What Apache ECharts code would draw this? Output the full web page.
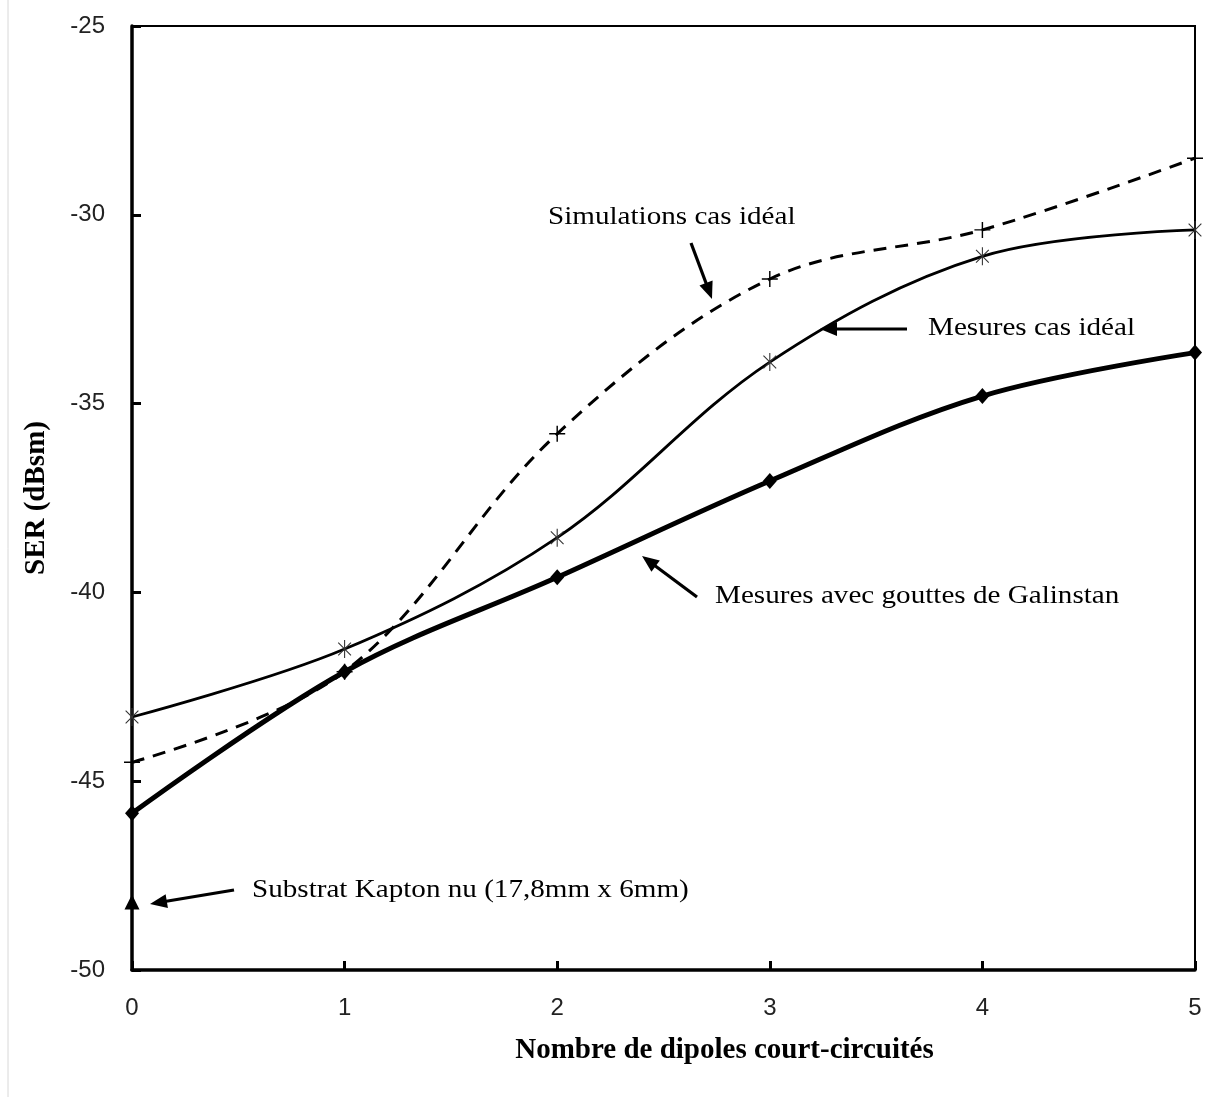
<!DOCTYPE html>
<html>
<head>
<meta charset="utf-8">
<script src="https://cdn.jsdelivr.net/npm/echarts@6/dist/echarts.min.js"></script>
<style>
html,body{margin:0;padding:0;background:#fff;}
#chart{width:1206px;height:1097px;}
</style>
</head>
<body>
<div id="chart"></div>
<script>
// ---- data ----
const xValues = [0, 1, 2, 3, 4, 5];
const simulationsIdeal = [-44.5, -42.1, -35.8, -31.7, -30.4, -28.5];
const mesuresIdeal = [-43.3, -41.5, -38.55, -33.9, -31.1, -30.4];
const mesuresGalinstan = [-45.85, -42.1, -39.6, -37.05, -34.8, -33.65];
const kaptonX = [0];
const kaptonY = [-48.2];
const xAxisTitle = 'Nombre de dipoles court-circuités';
const yAxisTitle = 'SER (dBsm)';
const annotationTexts = [
  'Simulations cas idéal',
  'Mesures cas idéal',
  'Mesures avec gouttes de Galinstan',
  'Substrat Kapton nu (17,8mm x 6mm)'
];

// ---- symbol shapes ----
function barsPath(angles, halfLen, halfTh) {
  let d = '';
  angles.forEach(function (a) {
    const r = a * Math.PI / 180;
    const ux = Math.cos(r), uy = Math.sin(r);
    const vx = -uy, vy = ux;
    const pts = [
      [ halfLen*ux + halfTh*vx,  halfLen*uy + halfTh*vy],
      [ halfLen*ux - halfTh*vx,  halfLen*uy - halfTh*vy],
      [-halfLen*ux - halfTh*vx, -halfLen*uy - halfTh*vy],
      [-halfLen*ux + halfTh*vx, -halfLen*uy + halfTh*vy]
    ];
    d += 'M' + pts.map(p => p[0].toFixed(3) + ',' + p[1].toFixed(3)).join('L') + 'Z';
  });
  return 'path://' + d;
}
const plusSymbol = barsPath([0, 90], 1, 0.09);
const starSymbol = barsPath([90, 45, 135], 1, 0.06);

function pairs(xs, ys) { return xs.map((x, i) => [x, ys[i]]); }

const chart = echarts.init(document.getElementById('chart'), null, {renderer: 'canvas'});

// annotation layout (pixels)
const annLayout = [
  {tx: 548, ty: 217, from: [691, 243], to: [712, 299]},
  {tx: 928, ty: 328, from: [907, 329], to: [820, 329]},
  {tx: 715, ty: 596, from: [697, 597], to: [642, 556]},
  {tx: 252, ty: 890, from: [234, 890], to: [150, 904]}
];

function arrow(from, to) {
  const dx = to[0] - from[0], dy = to[1] - from[1];
  const L = Math.sqrt(dx*dx + dy*dy);
  const ux = dx / L, uy = dy / L;
  const headLen = 17, headW = 7;
  const bx = to[0] - ux*headLen, by = to[1] - uy*headLen;
  return [
    {type: 'line', shape: {x1: from[0], y1: from[1], x2: bx + ux*2, y2: by + uy*2},
     style: {stroke: '#000', lineWidth: 3.2}},
    {type: 'polygon', shape: {points: [
      [to[0], to[1]],
      [bx - uy*headW, by + ux*headW],
      [bx + uy*headW, by - ux*headW]
    ]}, style: {fill: '#000'}}
  ];
}

const graphics = [
  {type: 'line', shape: {x1: 8, y1: 0, x2: 8, y2: 1097}, style: {stroke: '#d8d8d8', lineWidth: 1}}
];
annLayout.forEach(function (a, i) {
  graphics.push({
    type: 'text', x: a.tx, y: a.ty, scaleX: 1.12,
    style: {text: annotationTexts[i], fill: '#000',
      font: '26px "Liberation Serif", "Times New Roman", serif',
      textVerticalAlign: 'middle', textAlign: 'left'}
  });
  arrow(a.from, a.to).forEach(g => graphics.push(g));
});

const option = {
  backgroundColor: '#fff',
  animation: false,
  grid: {left: 132, right: 11, top: 26, bottom: 127, show: true,
         borderColor: '#000', borderWidth: 2, backgroundColor: 'transparent'},
  xAxis: {
    type: 'value', min: 0, max: 5, interval: 1,
    name: xAxisTitle, nameLocation: 'middle', nameGap: 66,
    nameTextStyle: {fontFamily: '"Liberation Serif", "Times New Roman", serif', fontWeight: 'bold', fontSize: 29, color: '#000',
                    padding: [0, 0, 0, 122]},
    axisLine: {show: true, lineStyle: {color: '#000', width: 3.5}},
    axisTick: {show: true, inside: true, length: 9, lineStyle: {color: '#000', width: 3}},
    axisLabel: {fontFamily: '"Liberation Sans", Arial, sans-serif', fontSize: 24, color: '#222', margin: 26},
    splitLine: {show: false}
  },
  yAxis: {
    type: 'value', min: -50, max: -25, interval: 5,
    name: yAxisTitle, nameLocation: 'middle', nameGap: 81, nameRotate: 90,
    nameTextStyle: {fontFamily: '"Liberation Serif", "Times New Roman", serif', fontWeight: 'bold', fontSize: 29, color: '#000'},
    axisLine: {show: true, lineStyle: {color: '#000', width: 3.5}},
    axisTick: {show: true, inside: true, length: 9, lineStyle: {color: '#000', width: 3}},
    axisLabel: {fontFamily: '"Liberation Sans", Arial, sans-serif', fontSize: 24, color: '#222', margin: 27},
    splitLine: {show: false}
  },
  series: [
    {
      name: 'Simulations cas idéal', type: 'line', smooth: 0.35,
      data: pairs(xValues, simulationsIdeal),
      symbol: plusSymbol, symbolSize: 16, showAllSymbol: true,
      lineStyle: {color: '#000', width: 3, type: [13, 9]},
      itemStyle: {color: '#000'}, z: 3
    },
    {
      name: 'Mesures cas idéal', type: 'line', smooth: 0.35,
      data: pairs(xValues, mesuresIdeal),
      symbol: starSymbol, symbolSize: 18, symbolKeepAspect: true,
      lineStyle: {color: '#000', width: 2.8},
      itemStyle: {color: '#333'}, z: 3
    },
    {
      name: 'Mesures avec gouttes de Galinstan', type: 'line', smooth: 0.35,
      data: pairs(xValues, mesuresGalinstan),
      symbol: 'diamond', symbolSize: [14, 16],
      lineStyle: {color: '#000', width: 5},
      itemStyle: {color: '#000'}, z: 4
    },
    {
      name: 'Substrat Kapton nu', type: 'line',
      data: pairs(kaptonX, kaptonY),
      symbol: 'triangle', symbolSize: [15, 15],
      lineStyle: {width: 0},
      itemStyle: {color: '#000'}, z: 4
    }
  ],
  graphic: graphics
};
chart.setOption(option);
</script>
</body>
</html>
